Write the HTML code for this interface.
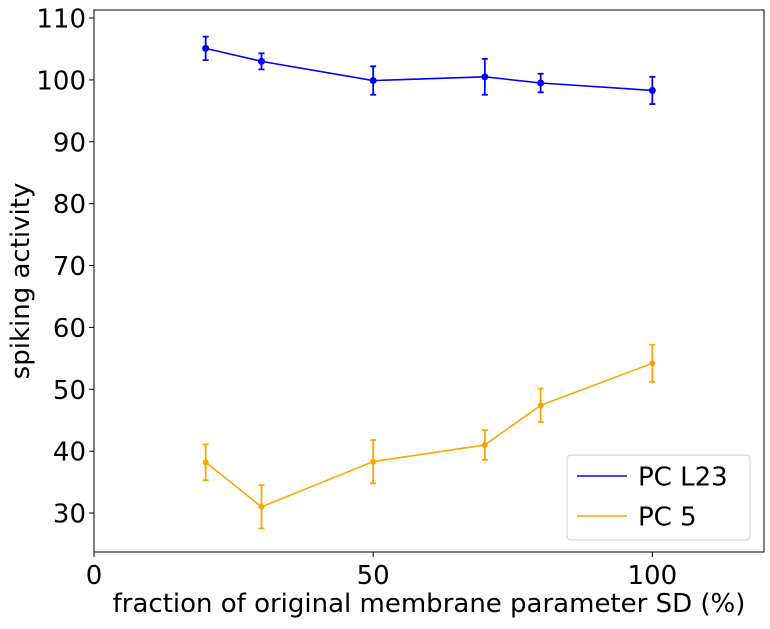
<!DOCTYPE html>
<html><head><meta charset="utf-8"><style>
body{margin:0;background:#fff;}
svg text{font-family:"DejaVu Sans","Liberation Sans",sans-serif;fill:#000;}
</style></head><body>
<svg id="chart" width="770" height="624">
<g id="plot"></g>
</svg>
<script>
const xs=[20,30,50,70,80,100];
const blueVals=[105.1,103.0,99.9,100.5,99.5,98.3];
const blueErr=[1.9,1.3,2.3,2.9,1.5,2.2];
const orangeVals=[38.2,31.0,38.3,41.0,47.4,54.2];
const orangeErr=[2.9,3.5,3.5,2.4,2.7,3.0];
const xTicks=[0,50,100];
const yTicks=[30,40,50,60,70,80,90,100,110];

const L=94,R=764,T=10,B=552;
const xmin=0,xmax=120,ymin=23.7,ymax=111.3;
const sx=v=>L+(v-xmin)/(xmax-xmin)*(R-L);
const sy=v=>B-(v-ymin)/(ymax-ymin)*(B-T);
const NS="http://www.w3.org/2000/svg";
const g=document.getElementById('plot');
function mk(tag,attrs,parent){const e=document.createElementNS(NS,tag);for(const k in attrs)e.setAttribute(k,attrs[k]);(parent||g).appendChild(e);return e;}

const frame=mk('rect',{x:L,y:T,width:R-L,height:B-T,fill:'none',stroke:'#000','stroke-width':1});



xTicks.forEach(t=>{
  const ln=mk('line',{x1:sx(t),x2:sx(t),y1:B,y2:B+5,stroke:'#000'});
  
  
  const tx=mk('text',{x:sx(t),y:B+32,'font-size':26,'text-anchor':'middle'});
  tx.textContent=t;
  
  
});
yTicks.forEach(t=>{
  const ln=mk('line',{x1:L-5,x2:L,y1:sy(t),y2:sy(t),stroke:'#000'});
  
  
  const tx=mk('text',{x:L-8,y:sy(t)+9.5,'font-size':26,'text-anchor':'end'});
  tx.textContent=t;
  
  
});

function series(vals,errs,color,name,r){
  const pl=mk('polyline',{points:xs.map((x,i)=>sx(x)+','+sy(vals[i])).join(' '),fill:'none',stroke:color,'stroke-width':1.6});
  
  
  xs.forEach((x,i)=>{
    const X=sx(x),y1=sy(vals[i]+errs[i]),y2=sy(vals[i]-errs[i]);
    const eb=mk('path',{d:`M${X},${y1}V${y2}M${X-3},${y1}H${X+3}M${X-3},${y2}H${X+3}`,stroke:color,'stroke-width':1.8,fill:'none'});
    
    
    const c=mk('circle',{cx:X,cy:sy(vals[i]),r:r,fill:color});
    
    
  });
}
series(blueVals,blueErr,'#0000ff','pc-l23',3.5);
series(orangeVals,orangeErr,'#ffa500','pc-5',3);

const xl=mk('text',{x:429,y:612,'font-size':26,'text-anchor':'middle'});
xl.textContent='fraction of original membrane parameter SD (%)';


const yl=mk('text',{x:0,y:0,'font-size':26,'text-anchor':'middle',transform:`translate(29,${(T+B)/2}) rotate(-90)`});
yl.textContent='spiking activity';



const lg=mk('g',{});


mk('rect',{x:567,y:455,width:183,height:85,rx:4,fill:'#fff',stroke:'#ccc'},lg);
[['PC L23','#0000ff',476],['PC 5','#ffa500',516]].forEach(([n,c,y])=>{
  const l=mk('line',{x1:577,x2:627,y1:y,y2:y,stroke:c,'stroke-width':1.6},lg);
  
  
  const t=mk('text',{x:638,y:y+9.5,'font-size':26},lg);
  t.textContent=n;
  
  
});
</script>
</body></html>
